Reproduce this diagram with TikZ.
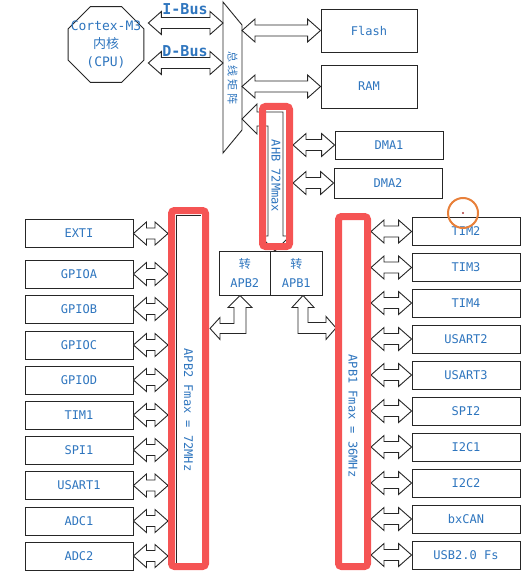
\documentclass[tikz,border=0pt]{standalone}
\usepackage{fontspec}
\setmonofont{DejaVu Sans Mono}
\newfontfamily\cjk{Noto Sans CJK SC}
\usetikzlibrary{calc, shapes.geometric}

\definecolor{txtblue}{RGB}{46,117,190}
\definecolor{markred}{RGB}{245,84,84}
\definecolor{markorange}{RGB}{232,128,58}

\pgfdeclarelayer{front}
\pgfsetlayers{main,front}

\begin{document}
\begin{tikzpicture}[x=1pt, y=-1pt,
    % --- styles ---
    busline/.style={draw=black!85, line width=0.9pt, fill=white, line join=miter},
    busarrow/.style={busline, to path={
        let \p1=(\tikztostart), \p2=(\tikztotarget) in
        (\x1,\y1) -- (\x1+13pt,\y1+11.5pt) -- (\x1+13pt,\y1+5.5pt)
        -- (\x2-13pt,\y1+5.5pt) -- (\x2-13pt,\y1+11.5pt) -- (\x2,\y1)
        -- (\x2-13pt,\y1-11.5pt) -- (\x2-13pt,\y1-5.5pt)
        -- (\x1+13pt,\y1-5.5pt) -- (\x1+13pt,\y1-11.5pt) -- cycle}},
    lbl/.style={font=\ttfamily\fontsize{12}{14}\selectfont, text=txtblue},
    periph/.style={lbl, draw=black!85, line width=0.9pt, minimum width=108pt,
        minimum height=28pt, inner sep=0pt},
    mem/.style={periph, minimum width=96pt, minimum height=43pt},
    conv/.style={periph, minimum width=51.5pt, minimum height=44pt, align=center,
        font=\ttfamily\fontsize{12}{19}\selectfont},
    cpu/.style={regular polygon, regular polygon sides=8, draw=black!85,
        line width=0.9pt, minimum size=82pt, inner sep=0pt},
    cputext/.style={align=center, text=txtblue, font=\ttfamily\fontsize{13}{18}\selectfont},
    buslabel/.style={font=\ttfamily\bfseries\fontsize{15}{17}\selectfont, text=txtblue},
    bustext/.style={lbl, rotate=-90},
    redframe/.style={draw=markred, line width=7pt, rounded corners=3pt, inner sep=0pt}
]
    \useasboundingbox (0,0) rectangle (525,572);

    % ===== red marks (drawn on top) =====
    \begin{pgfonlayer}{front}
        \node[redframe, minimum width=27pt, minimum height=140pt] (ahb) at (276,176.5) {};
        \node[redframe, minimum width=34pt, minimum height=356pt] (apb2) at (188.5,388.5) {};
        \node[redframe, minimum width=29pt, minimum height=350pt] (apb1) at (353,391.5) {};
        \node[circle, draw=markorange, line width=2pt, minimum size=30pt, inner sep=0pt]
            (cursor) at (463,213) {};
        \fill[markred!70!black] (cursor.center) circle (1.2pt);
    \end{pgfonlayer}

    % ===== CPU and bus matrix =====
    \node[cpu] (cpu) at (106,44.5) {};
    \node[cputext] (cputxt) at (cpu.center) {Cortex-M3\\{\cjk 内核}\\(CPU)};
    \coordinate (cpuR) at ([xshift=4pt]cpu.east);

    \draw[busline] (223,2) -- (242,25) -- (242,130) -- (223,153) -- cycle;
    \coordinate (bml) at (223,77);
    \coordinate (bmr) at (242,77);
    \node[rotate=-90, text=txtblue, font=\cjk\fontsize{11}{13}\selectfont] (bmtxt)
        at (232.5,78) {总\hspace{3pt}线\hspace{3pt}矩\hspace{3pt}阵};

    \coordinate (ibus) at (185,23);
    \coordinate (dbus) at (185,63);
    \draw[busarrow] (cpuR |- ibus) to (bml |- ibus);
    \draw[busarrow] (cpuR |- dbus) to (bml |- dbus);
    \node[buslabel] (ibuslbl) at (185,9) {I-Bus};
    \node[buslabel] (dbuslbl) at (185,51) {D-Bus};

    % ===== AHB side =====
    \node[mem] (flash) at (369,30.5) {Flash};
    \node[mem] (ram) at (369,86.5) {RAM};
    \draw[busarrow] (bmr |- flash.west) to (flash.west);
    \draw[busarrow] (bmr |- ram.west) to (ram.west);

    % AHB bus: from matrix down to the bridges
    \draw[busline] (bmr |- 0,119) -- ++(15,-15) -- ++(0,8) -- ++(26,0) -- ++(0,124)
        -- ++(7,0) -- ++(-15,15) -- ++(-15,-15) -- ++(8,0) -- ++(0,-110)
        -- ++(-11,0) -- ++(0,8) -- cycle;
    \node[bustext] (ahbtxt) at (276,176) {AHB 72Mmax};

    \node[periph] (dma1) at (389,145) {DMA1};
    \node[periph, minimum height=30pt] (dma2) at (388,183) {DMA2};
    \draw[busarrow] (ahb.east |- dma1.west) to (dma1.west);
    \draw[busarrow] (ahb.east |- dma2.west) to (dma2.west);

    % ===== bridges =====
    \node[conv] (conv2) at (244.75,273) {{\cjk 转}\\APB2};
    \node[conv] (conv1) at (296.25,273) {{\cjk 转}\\APB1};

    \draw[busline] ([xshift=-4.75pt]conv2.south) -- ++(12,12) -- ++(-6,0) -- ++(0,26)
        -- ++(-26,0) -- ++(0,6) -- ++(-10,-11) -- ++(10,-11) -- ++(0,6)
        -- ++(14,0) -- ++(0,-16) -- ++(-6,0) -- cycle;
    \draw[busline] ([xshift=6.75pt]conv1.south) -- ++(11,12) -- ++(-6,0) -- ++(0,15)
        -- ++(18,0) -- ++(0,-6) -- ++(10,11.5) -- ++(-10,11.5) -- ++(0,-6)
        -- ++(-28,0) -- ++(0,-26) -- ++(-6,0) -- cycle;

    % ===== APB2 bus =====
    \draw[black!85, line width=0.9pt] (176,563) -- (176,215) -- (201,215);
    \node[bustext] (apb2txt) at (188.5,410) {APB2 Fmax = 72MHz};

    \node[periph] (exti)   at (79,233.5) {EXTI};
    \node[periph] (gpioa)  at (79,274)   {GPIOA};
    \node[periph] (gpiob)  at (79,309)   {GPIOB};
    \node[periph] (gpioc)  at (79,345)   {GPIOC};
    \node[periph] (gpiod)  at (79,380)   {GPIOD};
    \node[periph] (tim1)   at (79,415)   {TIM1};
    \node[periph] (spi1)   at (79,450)   {SPI1};
    \node[periph] (usart1) at (79,485.5) {USART1};
    \node[periph] (adc1)   at (79,521)   {ADC1};
    \node[periph] (adc2)   at (79,556)   {ADC2};

    \draw[busarrow] (exti.east)   to (apb2.west |- exti.east);
    \draw[busarrow] (gpioa.east)  to (apb2.west |- gpioa.east);
    \draw[busarrow] (gpiob.east)  to (apb2.west |- gpiob.east);
    \draw[busarrow] (gpioc.east)  to (apb2.west |- gpioc.east);
    \draw[busarrow] (gpiod.east)  to (apb2.west |- gpiod.east);
    \draw[busarrow] (tim1.east)   to (apb2.west |- tim1.east);
    \draw[busarrow] (spi1.east)   to (apb2.west |- spi1.east);
    \draw[busarrow] (usart1.east) to (apb2.west |- usart1.east);
    \draw[busarrow] (adc1.east)   to (apb2.west |- adc1.east);
    \draw[busarrow] (adc2.east)   to (apb2.west |- adc2.east);

    % ===== APB1 bus =====
    \node[bustext] (apb1txt) at (353,416) {APB1 Fmax = 36MHz};

    \node[periph] (tim2)   at (466,231.5) {TIM2};
    \node[periph] (tim3)   at (466,267.5) {TIM3};
    \node[periph] (tim4)   at (466,303)   {TIM4};
    \node[periph] (usart2) at (466,339)   {USART2};
    \node[periph] (usart3) at (466,375)   {USART3};
    \node[periph] (spi2)   at (466,411)   {SPI2};
    \node[periph] (i2c1)   at (466,447)   {I2C1};
    \node[periph] (i2c2)   at (466,483)   {I2C2};
    \node[periph] (bxcan)  at (466,519)   {bxCAN};
    \node[periph] (usb)    at (466,555)   {USB2.0 Fs};

    \draw[busarrow] (apb1.east |- tim2.west)   to (tim2.west);
    \draw[busarrow] (apb1.east |- tim3.west)   to (tim3.west);
    \draw[busarrow] (apb1.east |- tim4.west)   to (tim4.west);
    \draw[busarrow] (apb1.east |- usart2.west) to (usart2.west);
    \draw[busarrow] (apb1.east |- usart3.west) to (usart3.west);
    \draw[busarrow] (apb1.east |- spi2.west)   to (spi2.west);
    \draw[busarrow] (apb1.east |- i2c1.west)   to (i2c1.west);
    \draw[busarrow] (apb1.east |- i2c2.west)   to (i2c2.west);
    \draw[busarrow] (apb1.east |- bxcan.west)  to (bxcan.west);
    \draw[busarrow] (apb1.east |- usb.west)    to (usb.west);

\end{tikzpicture}
\end{document}
